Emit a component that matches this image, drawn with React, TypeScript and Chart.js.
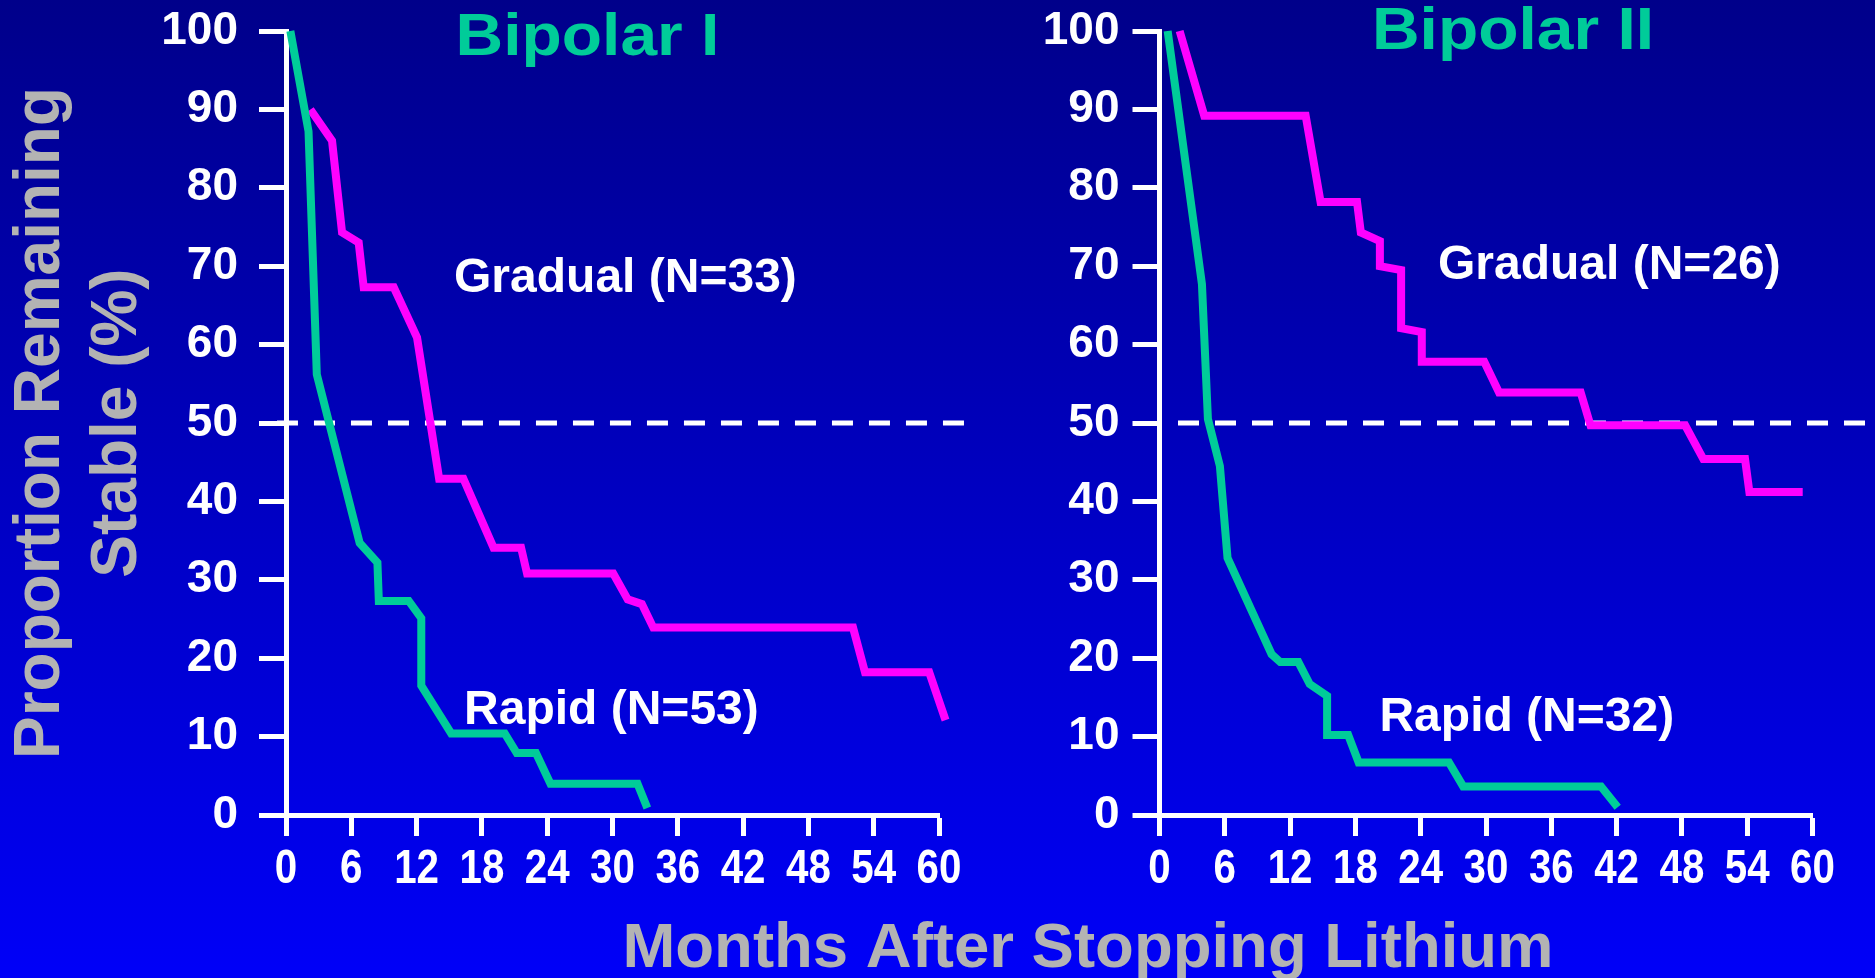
import React, { useEffect, useRef } from 'react';
import { Chart, registerables } from 'chart.js';

Chart.register(...registerables);

const W = 1875;
const H = 978;

const FONT = "'Liberation Sans', Arial, Helvetica, sans-serif";
const TEAL = '#00CC99';
const MAGENTA = '#FF00FF';
const GREY = '#B3B3B3';
const WHITE = '#FFFFFF';

// ---- tick labels ----
const monthTicks = [0, 6, 12, 18, 24, 30, 36, 42, 48, 54, 60];
const pctTicks = [0, 10, 20, 30, 40, 50, 60, 70, 80, 90, 100];

// ---- text ----
const panelTitles = ['Bipolar I', 'Bipolar II'];
const bp1Labels = ['Rapid (N=53)', 'Gradual (N=33)'];
const bp2Labels = ['Rapid (N=32)', 'Gradual (N=26)'];
const yTitleLines = ['Proportion Remaining', 'Stable (%)'];
const xTitle = 'Months After Stopping Lithium';

// ---- Bipolar I ----
const bp1RapidMonths = [0.4, 2.07, 2.83, 6.77, 8.4, 8.53, 11.28, 12.43, 12.43, 15.18, 20.1, 21.2, 22.97, 24.3, 32.3, 33.2];
const bp1RapidPct = [100, 87.2, 56.2, 34.7, 32.2, 27.3, 27.3, 25.1, 16.5, 10.4, 10.4, 7.9, 7.9, 4.0, 4.0, 0.9];
const bp1GradualMonths = [2.24, 4.23, 5.15, 6.68, 7.14, 9.9, 12.04, 14.07, 16.3, 19.07, 21.6, 22.15, 30.07, 31.4, 32.7, 33.75, 52.1, 53.2, 59.1, 60.6];
const bp1GradualPct = [90.0, 86.0, 74.3, 73.0, 67.3, 67.3, 60.9, 42.9, 42.9, 34.1, 34.1, 30.8, 30.8, 27.5, 26.9, 23.9, 23.9, 18.2, 18.2, 12.1];

// ---- Bipolar II ----
const bp2RapidMonths = [0.75, 3.9, 4.45, 5.55, 6.25, 10.3, 11.1, 12.76, 13.8, 15.4, 15.4, 17.34, 18.3, 26.6, 27.9, 40.57, 42.1];
const bp2RapidPct = [100, 67.7, 50.5, 44.5, 32.8, 20.5, 19.5, 19.5, 16.7, 15.2, 10.2, 10.2, 6.7, 6.7, 3.65, 3.65, 1.0];
const bp2GradualMonths = [1.85, 4.11, 13.43, 14.8, 18.15, 18.5, 20.25, 20.25, 22.2, 22.2, 24.1, 24.1, 29.84, 31.2, 38.7, 39.6, 48.3, 49.97, 53.8, 54.2, 59.1];
const bp2GradualPct = [100, 89.2, 89.2, 78.2, 78.2, 74.3, 73.2, 70.0, 69.5, 62.1, 61.6, 57.8, 57.8, 53.9, 53.9, 49.7, 49.7, 45.4, 45.4, 41.2, 41.2];

// ---- 50% reference lines ----
const medianPct = [50, 50];
const bp1MedianMonths = [-0.83, 62.5];
const bp2MedianMonths = [1.7, 65.8];

function pts(xs: number[], ys: number[]) {
  return xs.map((x, i) => ({ x, y: ys[i] }));
}

const notesPlugin = {
  id: 'notes',
  afterDatasetsDraw(chart: any, _args: any, opts: any) {
    const { ctx, scales } = chart;
    const items = (opts && opts.items) || [];
    const free = (opts && opts.free) || [];
    ctx.save();
    // condensed month tick labels, positioned by the x scale
    const xs = scales.x;
    xs.ticks.forEach((t: any) => {
      const px = xs.getPixelForValue(t.value);
      ctx.save();
      ctx.font = `bold 48px ${FONT}`;
      ctx.fillStyle = WHITE;
      ctx.textAlign = 'center';
      ctx.textBaseline = 'alphabetic';
      ctx.translate(px, xs.top + 68);
      ctx.scale(0.84, 1);
      ctx.fillText(String(t.value), 0, 0);
      ctx.restore();
    });
    items.forEach((n: any) => {
      const px = scales.x.getPixelForValue(n.x);
      const py = scales.y.getPixelForValue(n.y);
      ctx.save();
      ctx.font = `bold ${n.size}px ${FONT}`;
      ctx.fillStyle = n.color;
      ctx.textAlign = n.align;
      ctx.textBaseline = 'alphabetic';
      ctx.translate(px, py);
      ctx.scale(n.stretch || 1, 1);
      ctx.fillText(n.text, 0, 0);
      ctx.restore();
    });
    free.forEach((n: any) => {
      ctx.save();
      ctx.font = `bold ${n.size}px ${FONT}`;
      ctx.fillStyle = n.color;
      ctx.textAlign = n.align;
      ctx.textBaseline = 'alphabetic';
      ctx.fillText(n.text, n.px, n.py);
      ctx.restore();
    });
    ctx.restore();
  },
};

function lineDs(label: string, data: any[], color: string, width: number, dash?: number[]) {
  return {
    type: 'line',
    label,
    data,
    borderColor: color,
    backgroundColor: color,
    borderWidth: width,
    borderDash: dash || [],
    borderJoinStyle: 'miter',
    borderCapStyle: 'butt',
    pointRadius: 0,
    pointHoverRadius: 0,
    tension: 0,
    fill: false,
    clip: false,
  };
}

function buildConfig(p: any) {
  return {
    type: 'line',
    data: { datasets: p.datasets },
    plugins: [notesPlugin],
    options: {
      responsive: false,
      animation: false,
      events: [],
      layout: { padding: { left: p.padLeft, right: p.padRight, top: 31, bottom: 63 } },
      plugins: {
        legend: { display: false },
        tooltip: { enabled: false },
        title: { display: false },
        notes: { items: p.notes, free: p.free || [] },
      },
      scales: {
        x: {
          type: 'linear',
          position: 'bottom',
          min: 0,
          max: 60,
          afterBuildTicks: (s: any) => {
            s.ticks = monthTicks.map((v) => ({ value: v }));
          },
          afterFit: (s: any) => {
            s.height = 100;
            s.paddingLeft = 0;
            s.paddingRight = 0;
            s.paddingTop = 0;
            s.paddingBottom = 0;
          },
          ticks: {
            display: false,
            autoSkip: false,
            maxRotation: 0,
            minRotation: 0,
          },
          grid: {
            display: true,
            drawOnChartArea: false,
            drawTicks: true,
            tickLength: 21,
            tickWidth: 5,
            tickColor: WHITE,
          },
          border: { display: true, color: WHITE, width: 5 },
        },
        y: {
          type: 'linear',
          position: 'left',
          min: 0,
          max: 100,
          afterBuildTicks: (s: any) => {
            s.ticks = pctTicks.map((v) => ({ value: v }));
          },
          afterFit: (s: any) => {
            s.width = p.yWidth;
            s.paddingLeft = 0;
            s.paddingRight = 0;
            s.paddingTop = 0;
            s.paddingBottom = 0;
          },
          ticks: {
            color: WHITE,
            padding: p.yLabelPad,
            font: { family: FONT, size: 46, weight: 'bold' },
          },
          grid: {
            display: true,
            drawOnChartArea: false,
            drawTicks: true,
            tickLength: 27,
            tickWidth: 5,
            tickColor: WHITE,
          },
          border: { display: true, color: WHITE, width: 5 },
          title: p.yTitle
            ? {
                display: true,
                text: p.yTitle,
                color: GREY,
                font: { family: FONT, size: 64, weight: 'bold', lineHeight: 1.2 },
                padding: { top: 3, bottom: 0 },
              }
            : { display: false },
        },
      },
    },
  };
}

export default function App() {
  const leftRef = useRef<HTMLCanvasElement>(null);
  const rightRef = useRef<HTMLCanvasElement>(null);

  useEffect(() => {
    Chart.defaults.font.family = FONT;
    const left = new Chart(
      leftRef.current as any,
      buildConfig({
        padLeft: 0,
        padRight: W - 939,
        yWidth: 286,
        yLabelPad: 21,
        yTitle: yTitleLines,
        datasets: [
          lineDs(bp1Labels[0], pts(bp1RapidMonths, bp1RapidPct), TEAL, 8),
          lineDs(bp1Labels[1], pts(bp1GradualMonths, bp1GradualPct), MAGENTA, 8),
          lineDs('50%', pts(bp1MedianMonths, medianPct), WHITE, 5, [21, 16]),
        ],
        notes: [
          { text: panelTitles[0], x: 27.7, y: 97.0, align: 'center', size: 58.5, color: TEAL, stretch: 1.127 },
          { text: bp1Labels[1], x: 15.44, y: 66.68, align: 'left', size: 48, color: WHITE },
          { text: bp1Labels[0], x: 16.36, y: 11.65, align: 'left', size: 48, color: WHITE },
        ],
        free: [{ text: xTitle, px: 1088, py: 967, align: 'center', size: 63.5, color: GREY }],
      }) as any
    );
    const right = new Chart(
      rightRef.current as any,
      buildConfig({
        padLeft: 1000,
        padRight: W - 1812.5,
        yWidth: 159.5,
        yLabelPad: 13,
        yTitle: null,
        datasets: [
          lineDs(bp2Labels[0], pts(bp2RapidMonths, bp2RapidPct), TEAL, 8),
          lineDs(bp2Labels[1], pts(bp2GradualMonths, bp2GradualPct), MAGENTA, 8),
          lineDs('50%', pts(bp2MedianMonths, medianPct), WHITE, 5, [21, 16]),
        ],
        notes: [
          { text: panelTitles[1], x: 32.48, y: 97.7, align: 'center', size: 58.5, color: TEAL, stretch: 1.127 },
          { text: bp2Labels[1], x: 25.59, y: 68.34, align: 'left', size: 48, color: WHITE },
          { text: bp2Labels[0], x: 20.21, y: 10.71, align: 'left', size: 48, color: WHITE },
        ],
      }) as any
    );
    return () => {
      left.destroy();
      right.destroy();
    };
  }, []);

  return (
    <div
      style={{
        position: 'absolute',
        left: 0,
        top: 0,
        width: W,
        height: H,
        overflow: 'hidden',
        background: 'linear-gradient(to bottom, #00008A 0%, #0000F8 100%)',
      }}
    >
      <canvas ref={leftRef} width={W} height={H} style={{ position: 'absolute', left: 0, top: 0 }} />
      <canvas ref={rightRef} width={W} height={H} style={{ position: 'absolute', left: 0, top: 0 }} />
    </div>
  );
}
